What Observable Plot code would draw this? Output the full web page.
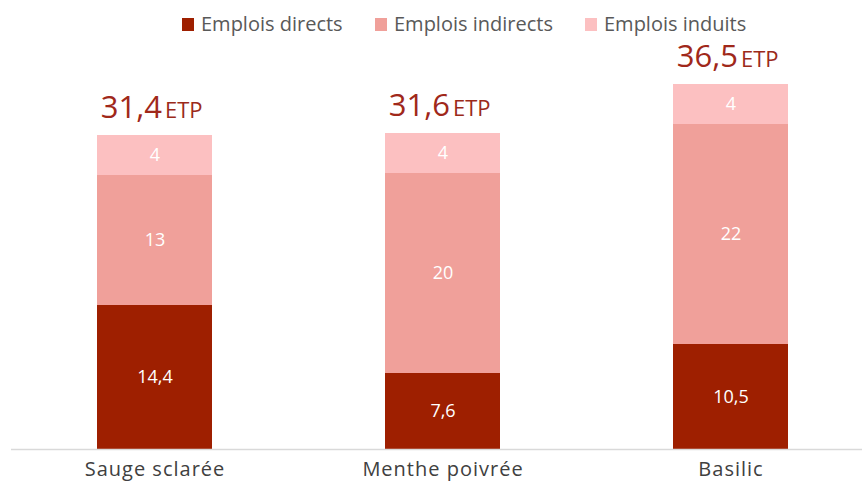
<!DOCTYPE html>
<html>
<head>
<meta charset="utf-8">
<script src="https://cdn.jsdelivr.net/npm/d3@7"></script>
<script src="https://cdn.jsdelivr.net/npm/@observablehq/plot@0.6"></script>
<style>
  html, body { margin: 0; padding: 0; background: #fff; }
  body { width: 862px; height: 487px; overflow: hidden; font-family: "Open Sans", sans-serif; }
  #legend { height: 40px; position: relative; }
  .item { position: absolute; top: 10px; display: flex; align-items: center; font-size: 20px; line-height: 28px; color: #595959; }
  .sw { width: 12px; height: 13px; margin-right: 7px; }
  .xaxis text { letter-spacing: 1px; }
</style>
</head>
<body>
<div id="legend"></div>
<div id="chart"></div>
<script>
const categories = ["Sauge sclarée", "Menthe poivrée", "Basilic"];
const seriesNames = ["Emplois directs", "Emplois indirects", "Emplois induits"];
const directs = [14.4, 7.6, 10.5];
const indirects = [13, 20, 22];
const induits = [4, 4, 4];
const colors = ["#9E1F00", "#F0A09A", "#FCC0C1"];

const seriesValues = [directs, indirects, induits];
const data = [];
categories.forEach((c, i) => {
  seriesNames.forEach((s, j) => data.push({cat: c, series: s, value: seriesValues[j][i]}));
});
const totals = categories.map((c, i) => ({cat: c, total: d3.sum(seriesValues, v => v[i])}));
const fmt = v => String(v).replace(".", ",");

// legend
const legendLefts = [182, 375, 585];
const legend = document.getElementById("legend");
seriesNames.forEach((s, j) => {
  const it = document.createElement("div");
  it.className = "item";
  it.style.left = legendLefts[j] + "px";
  const sw = document.createElement("span");
  sw.className = "sw";
  sw.style.background = colors[j];
  it.appendChild(sw);
  const t = document.createElement("span");
  t.textContent = s;
  it.appendChild(t);
  legend.appendChild(it);
});

const chart = Plot.plot({
  width: 862,
  height: 447,
  marginLeft: 11,
  marginRight: 0,
  marginTop: 0,
  marginBottom: 38,
  style: {fontFamily: "'Open Sans', sans-serif", background: "transparent", overflow: "visible"},
  x: {type: "band", domain: categories, range: [9.4, 875.6], paddingInner: 0.602, paddingOuter: 0.301, label: null},
  y: {domain: [0, 40], range: [409, 9], axis: null},
  color: {domain: seriesNames, range: colors},
  marks: [
    Plot.barY(data, {x: "cat", y: "value", fill: "series", order: seriesNames}),
    Plot.text(data, Plot.stackY({x: "cat", y: "value", z: "series", order: seriesNames,
      text: d => fmt(d.value), fill: "white", fontSize: 18})),
    Plot.ruleY([0], {stroke: "#d9d9d9", strokeWidth: 1.5}),
    Plot.text(totals, {x: "cat", y: "total", text: d => fmt(d.total), textAnchor: "end", lineAnchor: "bottom",
      dx: 7, dy: -18, fill: "#A0281A", fontSize: 31}),
    Plot.text(totals, {x: "cat", y: "total", text: () => "ETP", textAnchor: "start", lineAnchor: "bottom",
      dx: 10, dy: -18, fill: "#9B2A1A", fontSize: 22}),
    Plot.axisX({tickSize: 0, tickPadding: 12, fontSize: 20, color: "#404040", label: null, className: "xaxis"})
  ]
});
document.getElementById("chart").appendChild(chart);
</script>
</body>
</html>
